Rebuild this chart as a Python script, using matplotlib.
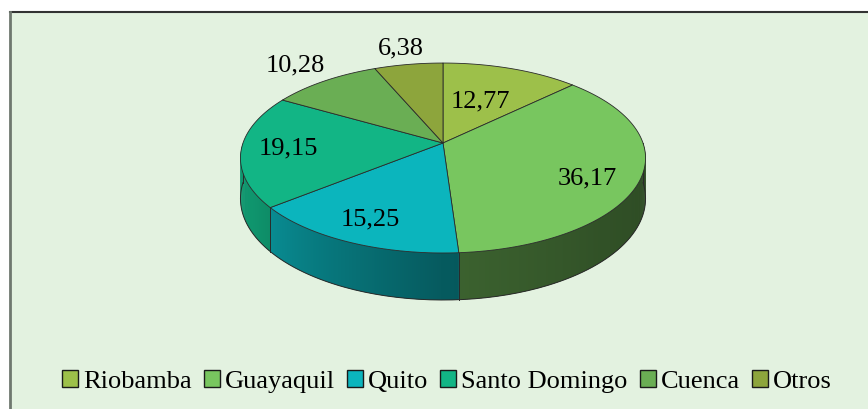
import numpy as np
import matplotlib

matplotlib.use("Agg")
import matplotlib.pyplot as plt
from matplotlib import colors as mcolors
from matplotlib.patches import Patch, Polygon, Rectangle


CITIES = ["Riobamba", "Guayaquil", "Quito", "Santo Domingo", "Cuenca", "Otros"]
SHARES = [12.77, 36.17, 15.25, 19.15, 10.28, 6.38]
COLORS = ["#9DC04A", "#78C65F", "#0BB5BD", "#12B585", "#6AAE54", "#8DA53C"]
# label placement: radius fraction and angle nudge (degrees) per slice
LABEL_R = [0.52, 0.77, 0.8, 0.77, 1.28, 1.25]
LABEL_DA = [0, -7, 0, 0, 0, 0]

# pie geometry in pixels (perspective ellipse)
CX, CY = 443.0, 143.0
A, B = 200.0, 92.6
P = 0.158
T = 39.6
FONT = "Liberation Serif"


def project(theta, r=1.0, drop=0.0):
    z = r * np.sin(theta)
    d = 1 + P * z
    x = CX + A * r * np.cos(theta) / d
    y = CY - B * z / d + T * drop / d
    return x, y


def side_shade(theta_deg):
    return np.interp(theta_deg, [-180, -150, -90, -45, 0], [0.84, 0.82, 0.5, 0.41, 0.37])


def main():
    fig = plt.figure(figsize=(8.68, 4.09), dpi=100)
    ax = fig.add_axes([0, 0, 1, 1])
    ax.set_xlim(0, 868)
    ax.set_ylim(409, 0)
    ax.axis("off")

    ax.add_patch(Rectangle((9.5, 11.5), 870, 410, facecolor="#E3F2E0", edgecolor="none", zorder=0))
    ax.plot([9.5, 868], [11.5, 11.5], color="#333333", lw=1.5, zorder=1)
    ax.plot([9.5, 9.5], [11.5, 409], color="#6F786F", lw=2, zorder=1)

    bounds = 90 - 360 * np.concatenate([[0], np.cumsum(SHARES)]) / 100.0

    # outer side walls, front half only, shaded in thin overlapping strips
    for i, color in enumerate(COLORS):
        hi, lo = min(bounds[i], 0.0), max(bounds[i + 1], -180.0)
        if hi <= lo:
            continue
        base = np.array(mcolors.to_rgb(color))
        steps = np.linspace(lo, hi, max(int((hi - lo) / 0.5), 2))
        for t0, t1 in zip(steps[:-1], steps[1:]):
            r0, r1 = np.radians(t0), np.radians(min(t1 + 0.6, hi))
            x0, y0 = project(r0)
            x1, y1 = project(r1)
            x2, y2 = project(r1, drop=1)
            x3, y3 = project(r0, drop=1)
            c = np.clip(base * side_shade((t0 + t1) / 2), 0, 1)
            ax.add_patch(Polygon([(x0, y0), (x1, y1), (x2, y2), (x3, y3)],
                                 facecolor=c, edgecolor="none", zorder=2))

    th = np.radians(np.linspace(-180, 0, 200))
    bx, by = project(th, drop=1)
    ax.plot(bx, by, color="#2A2A2A", lw=0.7, zorder=3)
    for b in [0.0, -180.0] + [v for v in bounds if -180 < v < 0]:
        rb = np.radians(b)
        xa, ya = project(rb)
        xb, yb = project(rb, drop=1)
        ax.plot([xa, xb], [ya, yb], color="#2A2A2A", lw=0.7, zorder=3)

    # top faces
    for i, color in enumerate(COLORS):
        arc = np.radians(np.linspace(bounds[i], bounds[i + 1], 120))
        ax_, ay_ = project(arc)
        pts = [(CX, CY)] + list(zip(ax_, ay_))
        ax.add_patch(Polygon(pts, closed=True, facecolor=color, edgecolor="#2A2A2A",
                             lw=0.6, joinstyle="round", zorder=4))

    # data labels
    for i, share in enumerate(SHARES):
        mid = np.radians((bounds[i] + bounds[i + 1]) / 2 + LABEL_DA[i])
        lx, ly = project(mid, r=LABEL_R[i])
        ax.text(lx, ly, f"{share:.2f}".replace(".", ","), ha="center", va="center",
                fontsize=19, family=FONT, color="black", zorder=5)

    handles = [Patch(facecolor=c, edgecolor="#1A1A1A", lw=1.0) for c in COLORS]
    ax.legend(handles, CITIES, loc="center", bbox_to_anchor=(0.515, 0.068), ncol=6,
              frameon=False, prop={"family": FONT, "size": 19},
              handlelength=0.6, handleheight=0.6, handletextpad=0.2,
              columnspacing=0.45, borderpad=0)

    fig.savefig("out.png", dpi=100)
    plt.close(fig)


if __name__ == "__main__":
    main()
